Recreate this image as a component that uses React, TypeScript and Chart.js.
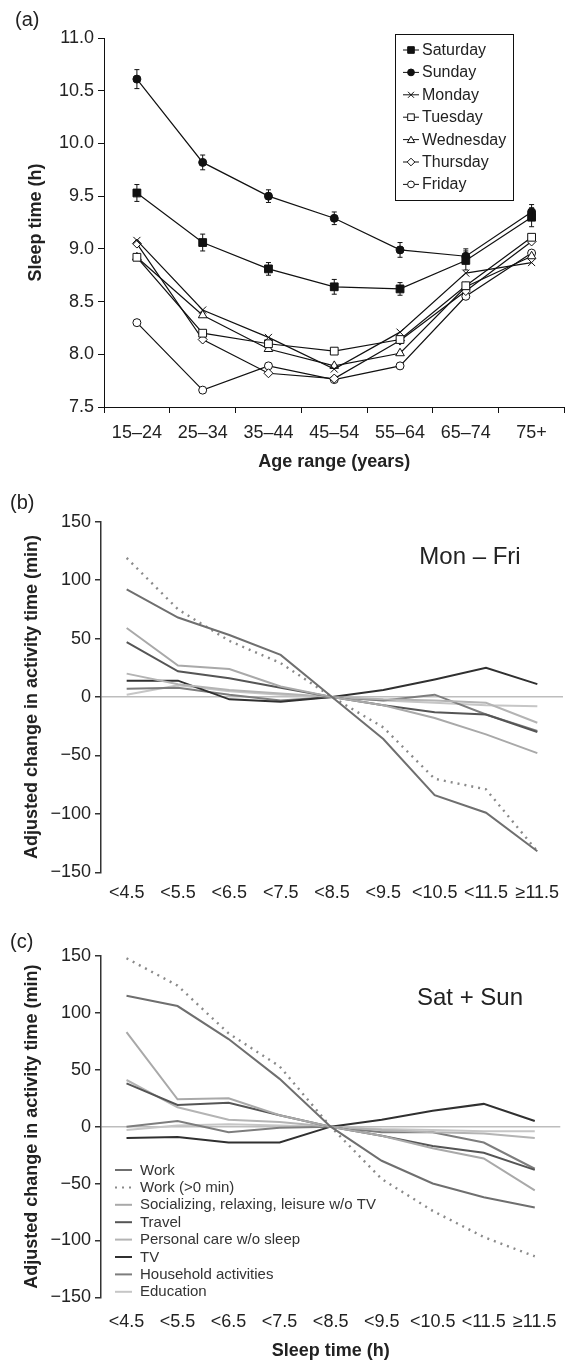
import React, { useEffect, useRef } from 'react';
import { Chart, registerables } from 'chart.js';

Chart.register(...registerables);

const FONT = 'Arial, "Liberation Sans", Helvetica, sans-serif';
const TEXT = '#222';

// ---------- Panel (a) data ----------
const ageRanges = ['15–24', '25–34', '35–44', '45–54', '55–64', '65–74', '75+'];
const sleepTicks = [7.5, 8.0, 8.5, 9.0, 9.5, 10.0, 10.5, 11.0];
const saturday = [9.53, 9.06, 8.81, 8.64, 8.62, 8.89, 9.3];
const saturdayErr = [0.08, 0.08, 0.06, 0.07, 0.06, 0.09, 0.09];
const sunday = [10.61, 9.82, 9.5, 9.29, 8.99, 8.93, 9.35];
const sundayErr = [0.09, 0.07, 0.06, 0.06, 0.07, 0.07, 0.07];
const monday = [9.08, 8.42, 8.16, 7.86, 8.21, 8.77, 8.87];
const tuesday = [8.92, 8.2, 8.1, 8.03, 8.14, 8.65, 9.11];
const wednesday = [8.92, 8.37, 8.05, 7.89, 8.01, 8.64, 8.93];
const thursday = [9.05, 8.14, 7.82, 7.77, 8.13, 8.6, 9.07];
const friday = [8.3, 7.66, 7.89, 7.76, 7.89, 8.55, 8.96];

// ---------- Panels (b) and (c) data ----------
const sleepBins = ['<4.5', '<5.5', '<6.5', '<7.5', '<8.5', '<9.5', '<10.5', '<11.5', '≥11.5'];
const activityTicks = [-150, -100, -50, 0, 50, 100, 150];
const activityNames = [
  'Work',
  'Work (>0 min)',
  'Socializing, relaxing, leisure w/o TV',
  'Travel',
  'Personal care w/o sleep',
  'TV',
  'Household activities',
  'Education',
];

// Mon – Fri
const wdWork = [92, 68, 53, 36, 0, -36, -84, -99, -132];
const wdWorkPos = [119, 75, 48, 29, 0, -26, -70, -79, -132];
const wdSocial = [59, 27, 24, 9, 0, -7, -18, -32, -48];
const wdTravel = [47, 22, 16, 8, 0, -7, -13, -15, -30];
const wdPersonal = [20, 11, 6, 3, 0, -2, -3, -5, -22];
const wdTV = [14, 14, -2, -4, 0, 6, 15, 25, 11];
const wdHousehold = [7, 8, 2, -3, 0, -3, 2, -15, -29];
const wdEducation = [2, 10, 5, 2, 0, -3, -5, -7, -8];

// Sat + Sun
const weWork = [115, 106, 77, 42, 0, -30, -50, -62, -71];
const weWorkPos = [148, 124, 82, 53, 0, -46, -74, -97, -114];
const weSocial = [83, 24, 25, 10, 0, -8, -19, -28, -56];
const weTravel = [38, 19, 21, 10, 0, -8, -17, -23, -38];
const wePersonal = [41, 17, 6, 4, 0, -3, -5, -6, -10];
const weTV = [-10, -9, -14, -14, 0, 6, 14, 20, 5];
const weHousehold = [0, 5, -5, -1, 0, -5, -5, -14, -37];
const weEducation = [-3, 1, 2, 1, 0, -2, -3, -4, -4];

const activityColors = ['#6f6f6f', '#8a8a8a', '#a9a9a9', '#555555', '#b4b4b4', '#303030', '#7d7d7d', '#c6c6c6'];
const activityDashes: number[][] = [[], [2, 5], [], [], [], [], [], []];

// ---------- helpers ----------
function drawMarker(ctx: CanvasRenderingContext2D, style: string, x: number, y: number, r: number, filled: boolean) {
  ctx.save();
  ctx.beginPath();
  if (style === 'rect') {
    const s = r * Math.SQRT1_2;
    ctx.rect(x - s, y - s, 2 * s, 2 * s);
  } else if (style === 'circle') {
    ctx.arc(x, y, r, 0, Math.PI * 2);
  } else if (style === 'triangle') {
    for (let k = 0; k < 3; k++) {
      const a = (k * 2 * Math.PI) / 3;
      const px = x + Math.sin(a) * r;
      const py = y - Math.cos(a) * r + r * 0.2;
      if (k === 0) ctx.moveTo(px, py);
      else ctx.lineTo(px, py);
    }
    ctx.closePath();
  } else if (style === 'rectRot') {
    ctx.moveTo(x, y - r);
    ctx.lineTo(x + r, y);
    ctx.lineTo(x, y + r);
    ctx.lineTo(x - r, y);
    ctx.closePath();
  } else if (style === 'crossRot') {
    const s = r * Math.SQRT1_2;
    ctx.moveTo(x - s, y - s);
    ctx.lineTo(x + s, y + s);
    ctx.moveTo(x - s, y + s);
    ctx.lineTo(x + s, y - s);
  }
  ctx.lineWidth = 1;
  ctx.strokeStyle = '#111';
  if (style !== 'crossRot') {
    ctx.fillStyle = filled ? '#111' : '#fff';
    ctx.fill();
  }
  ctx.stroke();
  ctx.restore();
}

function textPlugin(id: string, items: { text: string; x: number; y: number; size: number; align?: CanvasTextAlign }[]) {
  return {
    id,
    afterDraw(chart: any) {
      const ctx = chart.ctx as CanvasRenderingContext2D;
      ctx.save();
      ctx.fillStyle = TEXT;
      ctx.textBaseline = 'middle';
      for (const it of items) {
        ctx.font = `${it.size}px ${FONT}`;
        ctx.textAlign = it.align || 'left';
        ctx.fillText(it.text, it.x, it.y);
      }
      ctx.restore();
    },
  };
}

const errorBarPlugin = {
  id: 'errorBars',
  afterDatasetsDraw(chart: any) {
    const ctx = chart.ctx as CanvasRenderingContext2D;
    const yScale = chart.scales.y;
    ctx.save();
    ctx.strokeStyle = '#111';
    ctx.lineWidth = 1;
    chart.data.datasets.forEach((ds: any, i: number) => {
      if (!ds.errors) return;
      const meta = chart.getDatasetMeta(i);
      meta.data.forEach((pt: any, j: number) => {
        const v = ds.data[j];
        const e = ds.errors[j];
        const y1 = yScale.getPixelForValue(v + e);
        const y2 = yScale.getPixelForValue(v - e);
        ctx.beginPath();
        ctx.moveTo(pt.x, y1);
        ctx.lineTo(pt.x, y2);
        ctx.moveTo(pt.x - 2.5, y1);
        ctx.lineTo(pt.x + 2.5, y1);
        ctx.moveTo(pt.x - 2.5, y2);
        ctx.lineTo(pt.x + 2.5, y2);
        ctx.stroke();
      });
    });
    ctx.restore();
  },
};

const legendAPlugin = {
  id: 'legendA',
  afterDraw(chart: any) {
    const ctx = chart.ctx as CanvasRenderingContext2D;
    ctx.save();
    ctx.strokeStyle = '#111';
    ctx.lineWidth = 1;
    ctx.strokeRect(395.5, 34.5, 118, 166);
    chart.data.datasets.forEach((ds: any, i: number) => {
      const y = 50 + i * 22.4;
      ctx.beginPath();
      ctx.strokeStyle = '#111';
      ctx.moveTo(403, y);
      ctx.lineTo(419, y);
      ctx.stroke();
      drawMarker(ctx, ds.pointStyle, 411, y, ds.pointRadius * 0.85, ds.pointBackgroundColor !== '#fff');
      ctx.fillStyle = TEXT;
      ctx.font = `16px ${FONT}`;
      ctx.textAlign = 'left';
      ctx.textBaseline = 'middle';
      ctx.fillText(ds.label, 422, y + 0.5);
    });
    ctx.restore();
  },
};

function legendCPlugin() {
  return {
    id: 'legendC',
    afterDraw(chart: any) {
      const ctx = chart.ctx as CanvasRenderingContext2D;
      ctx.save();
      chart.data.datasets.forEach((ds: any, i: number) => {
        const y = 250 + i * 17.4;
        ctx.beginPath();
        ctx.strokeStyle = ds.borderColor;
        ctx.lineWidth = 2;
        ctx.setLineDash(ds.borderDash || []);
        ctx.moveTo(115, y);
        ctx.lineTo(132, y);
        ctx.stroke();
        ctx.setLineDash([]);
        ctx.fillStyle = '#333';
        ctx.font = `15px ${FONT}`;
        ctx.textAlign = 'left';
        ctx.textBaseline = 'middle';
        ctx.fillText(ds.label, 140, y + 0.5);
      });
      ctx.restore();
    },
  };
}

// ---------- Panel (a) ----------
function PanelA() {
  const ref = useRef<HTMLCanvasElement>(null);
  useEffect(() => {
    const series = [
      { label: 'Saturday', data: saturday, errors: saturdayErr, style: 'rect', filled: true, r: 5.5 },
      { label: 'Sunday', data: sunday, errors: sundayErr, style: 'circle', filled: true, r: 4 },
      { label: 'Monday', data: monday, errors: null, style: 'crossRot', filled: false, r: 5 },
      { label: 'Tuesday', data: tuesday, errors: null, style: 'rect', filled: false, r: 5.5 },
      { label: 'Wednesday', data: wednesday, errors: null, style: 'triangle', filled: false, r: 5 },
      { label: 'Thursday', data: thursday, errors: null, style: 'rectRot', filled: false, r: 4.5 },
      { label: 'Friday', data: friday, errors: null, style: 'circle', filled: false, r: 4 },
    ];
    const chart = new Chart(ref.current as HTMLCanvasElement, {
      type: 'line',
      data: {
        labels: ageRanges,
        datasets: series.map((s) => ({
          label: s.label,
          data: s.data,
          errors: s.errors,
          borderColor: '#111',
          borderWidth: 1.2,
          pointStyle: s.style,
          pointRadius: s.r,
          pointBackgroundColor: s.filled ? '#111' : '#fff',
          pointBorderColor: '#111',
          pointBorderWidth: 1,
          tension: 0,
        })) as any,
      },
      options: {
        responsive: false,
        animation: false,
        events: [],
        layout: { padding: { top: 38, right: 1, left: 0, bottom: 0 } },
        plugins: { legend: { display: false }, tooltip: { enabled: false } },
        scales: {
          x: {
            type: 'category',
            offset: true,
            grid: { offset: true, drawOnChartArea: false, drawTicks: true, tickLength: 6, color: '#111' },
            border: { display: true, color: '#111', width: 1 },
            ticks: { color: TEXT, font: { family: FONT, size: 18 }, padding: 9, maxRotation: 0, autoSkip: false },
            title: {
              display: true,
              text: 'Age range (years)',
              color: TEXT,
              font: { family: FONT, size: 18, weight: 'bold' },
              padding: { top: 0, bottom: 7 },
            },
            afterFit: (s: any) => {
              s.height = 73;
            },
          },
          y: {
            min: 7.5,
            max: 11,
            afterBuildTicks: (s: any) => {
              s.ticks = sleepTicks.map((v) => ({ value: v }));
            },
            grid: { drawOnChartArea: false, drawTicks: true, tickLength: 6, color: '#111' },
            border: { display: true, color: '#111', width: 1 },
            ticks: {
              color: TEXT,
              font: { family: FONT, size: 18 },
              padding: 4,
              callback: (v: any) => Number(v).toFixed(1),
            },
            title: {
              display: true,
              text: 'Sleep time (h)',
              color: TEXT,
              font: { family: FONT, size: 18, weight: 'bold' },
              padding: { top: 25, bottom: 0 },
            },
            afterFit: (s: any) => {
              s.width = 104;
            },
          },
        },
      } as any,
      plugins: [errorBarPlugin, legendAPlugin, textPlugin('tagA', [{ text: '(a)', x: 15, y: 20, size: 20 }])],
    });
    return () => chart.destroy();
  }, []);
  return <canvas ref={ref} width={571} height={480} style={{ position: 'absolute', left: 0, top: 0 }} />;
}

// ---------- Panels (b), (c) ----------
function ActivityPanel(props: {
  top: number;
  height: number;
  padTop: number;
  xHeight: number;
  xPad: number;
  values: number[][];
  tag: string;
  tagY: number;
  note: string;
  noteY: number;
  legend: boolean;
  xTitle: boolean;
}) {
  const ref = useRef<HTMLCanvasElement>(null);
  useEffect(() => {
    const plugins: any[] = [
      textPlugin('tag' + props.tag, [
        { text: props.tag, x: 10, y: props.tagY, size: 20 },
        { text: props.note, x: 470, y: props.noteY, size: 24, align: 'center' },
      ]),
    ];
    if (props.legend) plugins.push(legendCPlugin());
    const chart = new Chart(ref.current as HTMLCanvasElement, {
      type: 'line',
      data: {
        labels: sleepBins,
        datasets: props.values.map((vals, i) => ({
          label: activityNames[i],
          data: vals,
          borderColor: activityColors[i],
          borderDash: activityDashes[i],
          borderWidth: i === 1 ? 2.4 : 2,
          pointRadius: 0,
          tension: 0,
        })),
      },
      options: {
        responsive: false,
        animation: false,
        events: [],
        layout: { padding: { top: props.padTop, right: 8, left: 0, bottom: 0 } },
        plugins: { legend: { display: false }, tooltip: { enabled: false } },
        scales: {
          x: {
            type: 'category',
            offset: true,
            grid: { display: false, drawTicks: false },
            border: { display: false },
            ticks: { color: TEXT, font: { family: FONT, size: 18 }, padding: props.xPad, maxRotation: 0, autoSkip: false },
            title: {
              display: props.xTitle,
              text: 'Sleep time (h)',
              color: TEXT,
              font: { family: FONT, size: 18, weight: 'bold' },
              padding: { top: 0, bottom: 0 },
            },
            afterFit: (s: any) => {
              s.height = props.xHeight;
            },
          },
          y: {
            min: -150,
            max: 150,
            afterBuildTicks: (s: any) => {
              s.ticks = activityTicks.map((v) => ({ value: v }));
            },
            grid: {
              drawOnChartArea: true,
              drawTicks: true,
              tickLength: 6,
              lineWidth: 1.5,
              color: (c: any) => (c.tick && c.tick.value === 0 ? '#bdbdbd' : 'rgba(0,0,0,0)'),
              tickColor: '#333',
            },
            border: { display: true, color: '#333', width: 1.5 },
            ticks: {
              color: TEXT,
              font: { family: FONT, size: 18 },
              padding: 4,
              callback: (v: any) => (v < 0 ? '−' + Math.abs(v) : String(v)),
            },
            title: {
              display: true,
              text: 'Adjusted change in activity time (min)',
              color: TEXT,
              font: { family: FONT, size: 18, weight: 'bold' },
              padding: { top: 21, bottom: 0 },
            },
            afterFit: (s: any) => {
              s.width = 101;
            },
          },
        },
      } as any,
      plugins,
    });
    return () => chart.destroy();
  }, []);
  return (
    <canvas
      ref={ref}
      width={571}
      height={props.height}
      style={{ position: 'absolute', left: 0, top: props.top }}
    />
  );
}

export default function App() {
  const weekday = [wdWork, wdWorkPos, wdSocial, wdTravel, wdPersonal, wdTV, wdHousehold, wdEducation];
  const weekend = [weWork, weWorkPos, weSocial, weTravel, wePersonal, weTV, weHousehold, weEducation];
  return (
    <div style={{ position: 'absolute', left: 0, top: 0, width: 571, height: 1362, background: '#fff' }}>
      <PanelA />
      <ActivityPanel
        top={485}
        height={425}
        padTop={36.7}
        xHeight={37.7}
        xPad={10}
        values={weekday}
        tag="(b)"
        tagY={18}
        note="Mon – Fri"
        noteY={72}
        legend={false}
        xTitle={false}
      />
      <ActivityPanel
        top={920}
        height={442}
        padTop={36}
        xHeight={64.7}
        xPad={14}
        values={weekend}
        tag="(c)"
        tagY={22}
        note="Sat + Sun"
        noteY={78}
        legend={true}
        xTitle={true}
      />
    </div>
  );
}
